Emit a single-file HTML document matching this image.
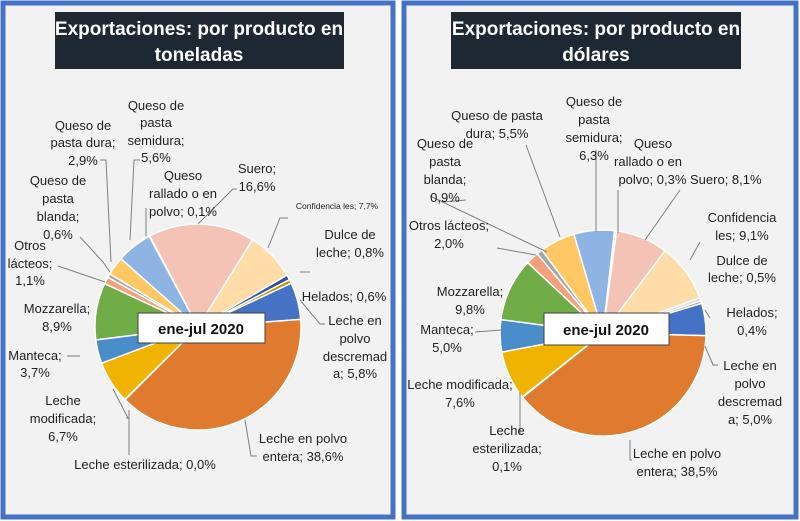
<!DOCTYPE html>
<html><head><meta charset="utf-8"><style>
html,body{margin:0;padding:0;background:#fff;}
svg{display:block;font-family:"Liberation Sans",sans-serif;}
</style></head><body>
<svg id="s" width="800" height="521" viewBox="0 0 800 521">
<rect x="0" y="0" width="800" height="521" fill="#fff"/>
<rect x="3" y="3" width="390" height="514" fill="#F2F2F2" stroke="#4472C4" stroke-width="5"/>
<rect x="404" y="3" width="392" height="514" fill="#F2F2F2" stroke="#4472C4" stroke-width="5"/>
<rect x="55" y="12" width="289" height="57" fill="#1E2833"/>
<rect x="451" y="12" width="290" height="57" fill="#1E2833"/>
<g fill="#fff" font-weight="bold" font-size="19" text-anchor="middle">
<text x="199" y="35">Exportaciones: por producto en</text>
<text x="199" y="61">toneladas</text>
<text x="596" y="35">Exportaciones: por producto en</text>
<text x="596" y="61">dólares</text>
</g>
<g id="p1"></g><g id="p2"></g>
<g stroke="#7f7f7f" stroke-width="1" fill="none">
<polyline points="100,160 106,160 111,262"/>
<polyline points="140,160 134,160 130,240"/>
<polyline points="80,237 103,262 110,272"/>
<polyline points="58,266 105,282"/>
<polyline points="146,208 146,236"/>
<polyline points="237,189 233,189 198,224"/>
<polyline points="288,218 280,218 268,248"/>
<polyline points="300,272 310,272"/>
<polyline points="325,324 320,324 300,300"/>
<polyline points="126,418 128,418 113,389"/>
<polyline points="129,455 129,410"/>
<polyline points="257,456 251,456 245,420"/>
<polyline points="67,356 80,356"/>
<polyline points="466,200 443,202 430,196 547,252"/>
<polyline points="497,248 536,255"/>
<polyline points="526,145 560,237"/>
<polyline points="596,150 596,232"/>
<polyline points="618,190 618,233"/>
<polyline points="680,190 645,240"/>
<polyline points="700,242 690,260"/>
<polyline points="710,318 705,310"/>
<polyline points="718,365 713,365 705,346"/>
<polyline points="475,332 502,330"/>
<polyline points="519,393 520,393 520,435"/>
<polyline points="630,440 630,460 632,460"/>
</g>
<g font-size="13" fill="#222" text-anchor="middle">
<text x="156" y="110">Queso de</text><text x="156" y="127">pasta</text><text x="156" y="145">semidura;</text><text x="156" y="162">5,6%</text>
<text x="83" y="130">Queso de</text><text x="83" y="147">pasta dura;</text><text x="83" y="165">2,9%</text>
<text x="58" y="185">Queso de</text><text x="58" y="203">pasta</text><text x="58" y="221">blanda;</text><text x="58" y="239">0,6%</text>
<text x="183" y="180">Queso</text><text x="183" y="198">rallado o en</text><text x="183" y="216">polvo; 0,1%</text>
<text x="257" y="173">Suero;</text><text x="257" y="191">16,6%</text>
<text x="337" y="209" font-size="8.5">Confidencia les; 7,7%</text>
<text x="350" y="239">Dulce de</text><text x="350" y="257">leche; 0,8%</text>
<text x="344" y="301">Helados; 0,6%</text>
<text x="355" y="325">Leche en</text><text x="355" y="343">polvo</text><text x="355" y="361">descremad</text><text x="355" y="378">a; 5,8%</text>
<text x="303" y="443">Leche en polvo</text><text x="303" y="461">entera; 38,6%</text>
<text x="145" y="469">Leche esterilizada; 0,0%</text>
<text x="63" y="405">Leche</text><text x="63" y="423">modificada;</text><text x="63" y="441">6,7%</text>
<text x="35" y="360">Manteca;</text><text x="35" y="377">3,7%</text>
<text x="57" y="313">Mozzarella;</text><text x="57" y="331">8,9%</text>
<text x="30" y="250">Otros</text><text x="30" y="268">lácteos;</text><text x="30" y="285">1,1%</text>

<text x="497" y="120">Queso de pasta</text><text x="497" y="138">dura; 5,5%</text>
<text x="594" y="106">Queso de</text><text x="594" y="124">pasta</text><text x="594" y="142">semidura;</text><text x="594" y="160">6,3%</text>
<text x="653" y="148">Queso</text><text x="648" y="166">rallado o en</text><text x="690" y="184">polvo; 0,3% Suero; 8,1%</text>
<text x="445" y="148">Queso de</text><text x="445" y="166">pasta</text><text x="445" y="184">blanda;</text><text x="445" y="202">0,9%</text>
<text x="449" y="230">Otros lácteos;</text><text x="449" y="248">2,0%</text>
<text x="742" y="222">Confidencia</text><text x="742" y="240">les; 9,1%</text>
<text x="742" y="265">Dulce de</text><text x="742" y="282">leche; 0,5%</text>
<text x="752" y="317">Helados;</text><text x="752" y="335">0,4%</text>
<text x="750" y="370">Leche en</text><text x="750" y="388">polvo</text><text x="750" y="406">descremad</text><text x="750" y="424">a; 5,0%</text>
<text x="470" y="296">Mozzarella;</text><text x="470" y="314">9,8%</text>
<text x="447" y="334">Manteca;</text><text x="447" y="352">5,0%</text>
<text x="460" y="389">Leche modificada;</text><text x="460" y="407">7,6%</text>
<text x="507" y="435">Leche</text><text x="507" y="453">esterilizada;</text><text x="507" y="471">0,1%</text>
<text x="677" y="458">Leche en polvo</text><text x="677" y="476">entera; 38,5%</text>
</g>
<rect x="138" y="313" width="127" height="30" fill="#fff" stroke="#404040" stroke-width="1"/>
<text x="201" y="334" font-size="15" font-weight="bold" text-anchor="middle" fill="#111">ene-jul 2020</text>
<rect x="544" y="313" width="125" height="32" fill="#fff" stroke="#404040" stroke-width="1"/>
<text x="606" y="335" font-size="15" font-weight="bold" text-anchor="middle" fill="#111">ene-jul 2020</text>
</svg>
<script>
function pie(id,cx,cy,r,start,data){
  var g=document.getElementById(id),tot=0;data.forEach(function(d){tot+=d[0];});
  var a=start,h="";
  data.forEach(function(d){
    var sw=d[0]/tot*360; if(sw<=0)return;
    var a1=a*Math.PI/180,a2=(a+sw)*Math.PI/180;
    var x1=cx+r*Math.sin(a1),y1=cy-r*Math.cos(a1),x2=cx+r*Math.sin(a2),y2=cy-r*Math.cos(a2);
    h+='<path d="M'+cx+','+cy+' L'+x1.toFixed(2)+','+y1.toFixed(2)+' A'+r+','+r+' 0 '+(sw>180?1:0)+' 1 '+x2.toFixed(2)+','+y2.toFixed(2)+' Z" fill="'+d[1]+'" stroke="#fff" stroke-width="1.5"/>';
    a+=sw;
  });
  g.innerHTML=h;
}
pie("p1",198,327,103,32,[[7.7,"#FFDCA8"],[0.8,"#2F5597"],[0.6,"#BF9000"],[5.8,"#4472C4"],[38.6,"#E07A2F"],[0.05,"#E07A2F"],[6.7,"#F0B300"],[3.7,"#4A8DCB"],[8.9,"#70AD47"],[1.1,"#F3A07C"],[0.6,"#A5A5A5"],[2.9,"#FFC864"],[5.6,"#8EB4E3"],[0.1,"#C9D9EE"],[16.6,"#F5C3B5"]]);
pie("p2",603,333,103,37,[[9.1,"#FFDCA8"],[0.5,"#D9D9D9"],[0.4,"#A5A5A5"],[5.0,"#4472C4"],[38.5,"#E07A2F"],[0.1,"#F0B300"],[7.6,"#F0B300"],[5.0,"#4A8DCB"],[9.8,"#70AD47"],[2.0,"#F3A07C"],[0.9,"#A5A5A5"],[5.5,"#FFC864"],[6.3,"#8EB4E3"],[0.3,"#C9D9EE"],[8.1,"#F5C3B5"]]);
</script>
</body></html>
